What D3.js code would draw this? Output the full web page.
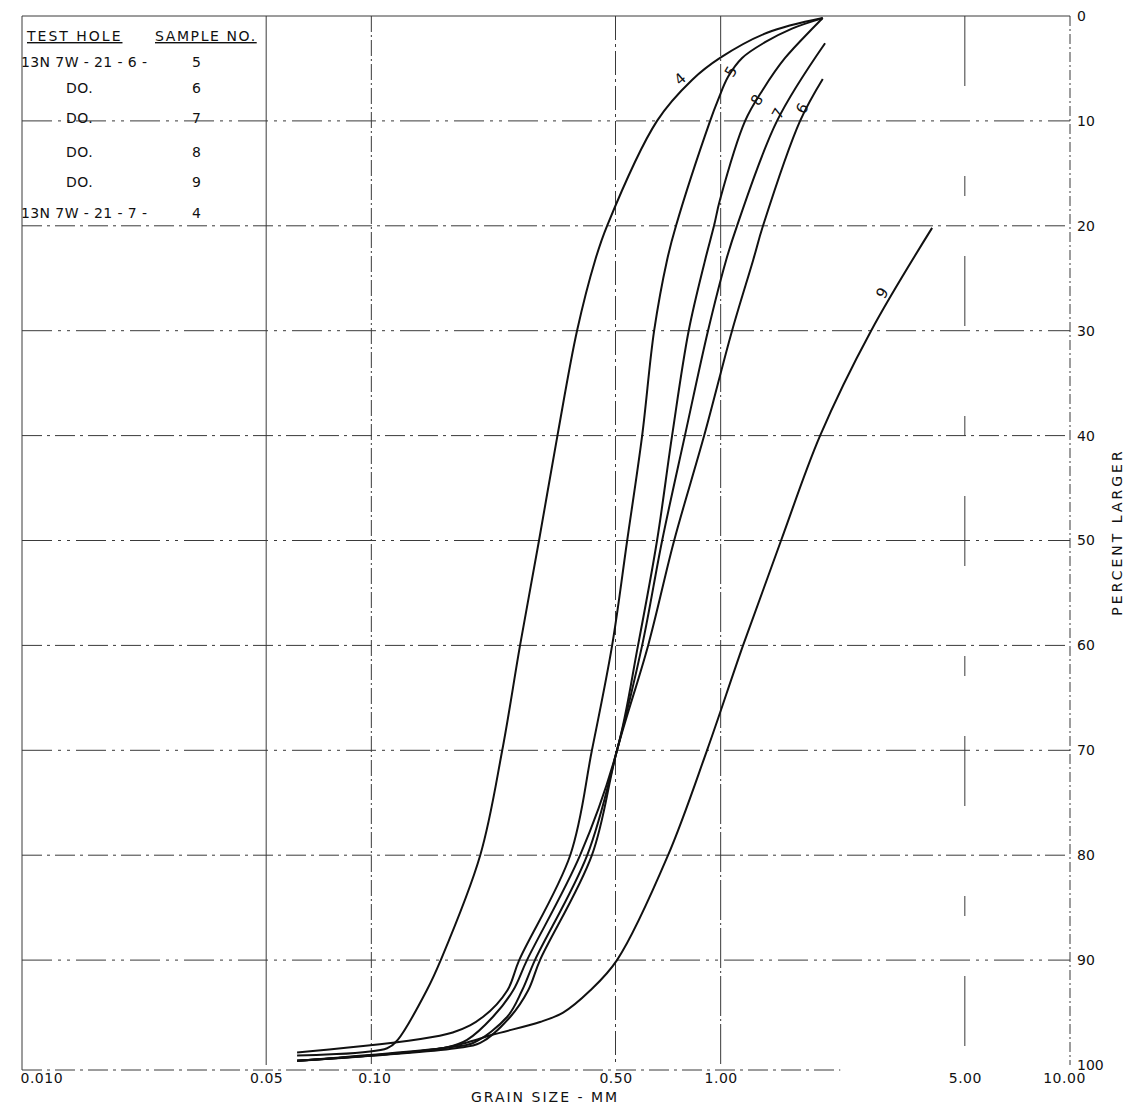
<!DOCTYPE html>
<html>
<head>
<meta charset="utf-8">
<script src="https://cdn.jsdelivr.net/npm/d3@7"></script>
<style>
  body { margin: 0; background: #fff; }
  text { font-family: "DejaVu Sans", sans-serif; fill: #111; }
  .grid line { stroke: #3a3a3a; stroke-width: 1; fill: none; }
  .curve { fill: none; stroke: #111; stroke-width: 2; }
</style>
</head>
<body>
<div class="viz"></div>
<script>
// grain size (mm) vs percent larger
var curve4 = [[0.0613, 99.1], [0.111, 98.4], [0.119, 97.6], [0.144, 92.9], [0.158, 90], [0.205, 80],
  [0.237, 70], [0.2665, 60], [0.302, 50], [0.341, 40], [0.388, 30], [0.437, 23.3],
  [0.473, 20], [0.6575, 10], [0.828, 6.1], [0.996, 4.0], [1.358, 1.6], [1.96, 0.2]];
var curve5 = [[0.0613, 98.8], [0.171, 96.9], [0.209, 95.4], [0.245, 92.9], [0.265, 90], [0.371, 80],
  [0.428, 70], [0.489, 60], [0.54, 50], [0.596, 40], [0.645, 30], [0.702, 23.3],
  [0.745, 20], [0.933, 10], [0.983, 8], [1.05, 5.8], [1.152, 4.0], [1.34, 2.5], [1.6, 1.2], [1.96, 0.2]];
var curve6 = [[0.0613, 99.6], [0.174, 98.4], [0.205, 97.9], [0.25, 95.4], [0.281, 92.9], [0.304, 90],
  [0.428, 80], [0.505, 70], [0.62, 60], [0.736, 50], [0.897, 40], [1.078, 30],
  [1.238, 23.3], [1.322, 20], [1.688, 10], [1.96, 6.0]];
var curve7 = [[0.0613, 99.6], [0.168, 98.3], [0.1955, 97.9], [0.245, 95.4], [0.27, 92.9], [0.294, 90],
  [0.415, 80], [0.505, 70], [0.596, 60], [0.68, 50], [0.79, 40], [0.92, 30],
  [1.036, 23.3], [1.114, 20], [1.45, 10], [1.99, 2.6]];
var curve8 = [[0.0613, 99.6], [0.165, 98.3], [0.188, 97.6], [0.223, 95.4], [0.2545, 92.9], [0.279, 90],
  [0.396, 80], [0.505, 70], [0.58, 60], [0.6575, 50], [0.726, 40], [0.81, 30], [0.902, 23.3],
  [0.957, 20], [0.996, 17.5], [1.175, 10], [1.322, 7.0], [1.529, 4.0], [1.96, 0.2]];
var curve9 = [[0.0613, 99.6], [0.16, 98.4], [0.19, 97.8], [0.223, 97.1], [0.304, 95.9], [0.354, 95],
  [0.423, 92.9], [0.505, 90], [0.707, 80], [0.914, 70], [1.159, 60], [1.489, 50],
  [1.926, 40], [2.696, 30], [4.03, 20.2]];

var sampleIds = ["4", "5", "6", "7", "8", "9"];
var curves = [curve4, curve5, curve6, curve7, curve8, curve9];
// where each curve number is written: [size, percent, angle]
var curveLabels = [[0.765, 6.0, -42], [1.07, 5.3, -60], [1.71, 8.8, -62],
  [1.46, 9.3, -60], [1.27, 8.0, -58], [2.9, 26.4, -59]];

var xTicks = [0.01, 0.05, 0.1, 0.5, 1, 5, 10];
var xTickLabels = ["0.010", "0.05", "0.10", "0.50", "1.00", "5.00", "10.00"];
var yTicks = [0, 10, 20, 30, 40, 50, 60, 70, 80, 90, 100];

var legendHeader = ["TEST HOLE", "SAMPLE NO."];
var legendHoles = ["13N 7W - 21 - 6 -", "DO.", "DO.", "DO.", "DO.", "13N 7W - 21 - 7 -"];
var legendSamples = ["5", "6", "7", "8", "9", "4"];

var width = 1130, height = 1106;

var xScale = d3.scaleLog().domain([0.01, 10]).range([22, 1070]);
var yScale = d3.scaleLinear().domain([0, 100]).range([16, 1065]);

var svg = d3.select(".viz").append("svg")
  .attr("width", width)
  .attr("height", height);

// grid
var grid = svg.append("g").attr("class", "grid");

grid.selectAll("line.h")
  .data(yTicks)
  .enter()
  .append("line")
  .attr("class", "h")
  .attr("x1", xScale(0.01))
  .attr("x2", d => d == 100 ? xScale(2.2) : xScale(10))
  .attr("y1", d => yScale(d) + (d == 100 ? 5 : 0))
  .attr("y2", d => yScale(d) + (d == 100 ? 5 : 0))
  .attr("stroke-dasharray", (d, i) => d == 0 ? null : (i % 2 ? "30 6 3 6 3 6" : "20 5 3 5"));

var vDash = { 0.01: null, 0.05: null, 0.1: "16 3 2 3", 0.5: "24 4 3 4", 1: "40 3 2 3", 5: "70 90 20 60", 10: "10 3 2 3" };
grid.selectAll("line.v")
  .data(xTicks)
  .enter()
  .append("line")
  .attr("class", "v")
  .attr("x1", d => xScale(d))
  .attr("x2", d => xScale(d))
  .attr("y1", yScale(0))
  .attr("y2", d => d == 0.01 ? yScale(100) + 5 : yScale(100))
  .attr("stroke-dasharray", d => vDash[d]);

// curves
var line = d3.line()
  .x(d => xScale(d[0]))
  .y(d => yScale(d[1]))
  .curve(d3.curveCatmullRom.alpha(0.5));

svg.selectAll("path.curve")
  .data(curves)
  .enter()
  .append("path")
  .attr("class", "curve")
  .attr("d", line);

// curve numbers
svg.selectAll("text.clabel")
  .data(curveLabels)
  .enter()
  .append("text")
  .attr("class", "clabel")
  .attr("transform", d => "translate(" + xScale(d[0]) + "," + yScale(d[1]) + ") rotate(" + d[2] + ")")
  .attr("text-anchor", "middle")
  .attr("dy", "0.35em")
  .style("font-size", "15px")
  .text((d, i) => sampleIds[i]);

// x axis labels
var xAxis = d3.axisBottom(xScale)
  .tickValues(xTicks)
  .tickFormat((d, i) => xTickLabels[i])
  .tickSize(0)
  .tickPadding(8);

var gX = svg.append("g")
  .attr("transform", "translate(0," + yScale(100) + ")")
  .call(xAxis);
gX.select(".domain").remove();
gX.selectAll("text")
  .style("font-size", "14px")
  .style("font-family", "DejaVu Sans, sans-serif")
  .style("letter-spacing", "0.5px")
  .attr("fill", "#111")
  .attr("text-anchor", (d, i) => i == 0 ? "start" : "middle")
  .attr("dx", (d, i) => i == 0 ? -2 : (i == 6 ? -6 : (i == 2 ? 3 : 0)));

// y axis labels on the right
var yAxis = d3.axisRight(yScale)
  .tickValues(yTicks)
  .tickSize(0)
  .tickPadding(7);

var gY = svg.append("g")
  .attr("transform", "translate(" + xScale(10) + ",0)")
  .call(yAxis);
gY.select(".domain").remove();
gY.selectAll("text")
  .style("font-size", "14px")
  .style("font-family", "DejaVu Sans, sans-serif")
  .attr("fill", "#111");

// axis titles
svg.append("text")
  .attr("x", 545)
  .attr("y", 1102)
  .attr("text-anchor", "middle")
  .style("font-size", "14px")
  .style("letter-spacing", "2px")
  .text("GRAIN  SIZE - MM");

svg.append("text")
  .attr("transform", "translate(1122," + 532 + ") rotate(-90)")
  .attr("text-anchor", "middle")
  .style("font-size", "14px")
  .style("letter-spacing", "3px")
  .text("PERCENT  LARGER");

// legend table
var legend = svg.append("g").attr("class", "legend");

legend.append("text")
  .attr("x", 27).attr("y", 41)
  .style("font-size", "14px")
  .style("letter-spacing", "2px")
  .style("text-decoration", "underline")
  .text(legendHeader[0]);
legend.append("text")
  .attr("x", 155).attr("y", 41)
  .style("font-size", "14px")
  .style("letter-spacing", "1.6px")
  .style("text-decoration", "underline")
  .text(legendHeader[1]);

var rowY = [67, 93, 123, 157, 187, 218];
var rows = legend.selectAll("g.row")
  .data(legendHoles)
  .enter()
  .append("g")
  .attr("class", "row")
  .attr("transform", (d, i) => "translate(0," + rowY[i] + ")");

rows.append("text")
  .attr("x", d => d == "DO." ? 66 : 21)
  .style("font-size", "14px")
  .style("letter-spacing", d => d == "DO." ? "0.5px" : "0.4px")
  .text(d => d);

rows.append("text")
  .attr("x", 192)
  .style("font-size", "14px")
  .text((d, i) => legendSamples[i]);
</script>
</body>
</html>
